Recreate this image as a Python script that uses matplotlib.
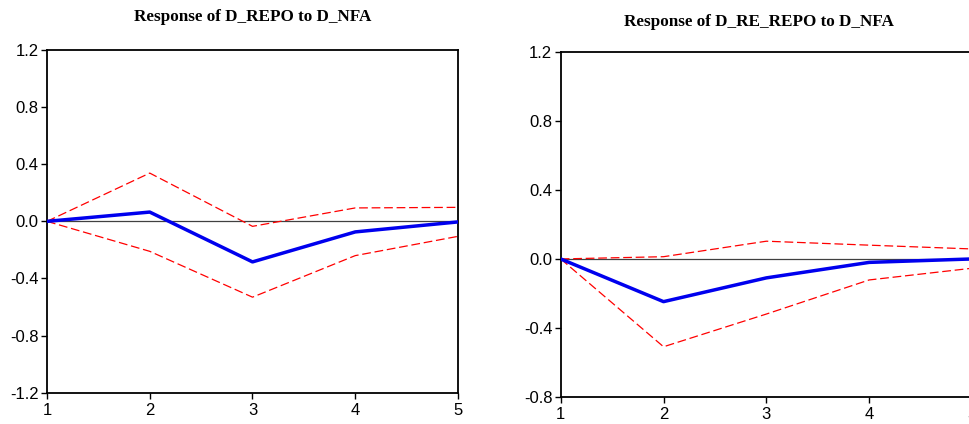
import numpy as np
import matplotlib.pyplot as plt

# impulse response horizons
periods = [1, 2, 3, 4, 5]

# Response of D_REPO to D_NFA
repo_resp = [0.0, 0.065, -0.284, -0.074, -0.004]
repo_upper = [0.0, 0.338, -0.035, 0.094, 0.098]
repo_lower = [0.0, -0.210, -0.531, -0.240, -0.105]

# Response of D_RE_REPO to D_NFA
rerepo_resp = [0.0, -0.248, -0.110, -0.020, 0.0]
rerepo_upper = [0.0, 0.013, 0.103, 0.080, 0.058]
rerepo_lower = [0.0, -0.510, -0.320, -0.122, -0.054]

left_yticks = [1.2, 0.8, 0.4, 0.0, -0.4, -0.8, -1.2]
right_yticks = [1.2, 0.8, 0.4, 0.0, -0.4, -0.8]

W, H = 970, 424
fig = plt.figure(figsize=(W / 100, H / 100), dpi=100)


def px_axes(x0, y0, x1, y1):
    return fig.add_axes([x0 / W, 1 - y1 / H, (x1 - x0) / W, (y1 - y0) / H])


def draw_panel(ax, resp, upper, lower, yticks, ylim):
    ax.axhline(0, color='#404040', lw=0.9, zorder=1)
    ax.plot(periods, upper, color='red', lw=0.9, dashes=(7, 3), zorder=2)
    ax.plot(periods, lower, color='red', lw=0.9, dashes=(7, 3), zorder=2)
    ax.plot(periods, resp, color='#0000ee', lw=2.5, zorder=3)
    ax.set_xlim(1, 5)
    ax.set_ylim(*ylim)
    ax.set_xticks(periods)
    ax.set_yticks(yticks)
    ax.set_yticklabels([f'{v:.1f}' for v in yticks])
    ax.tick_params(direction='out', length=4.5, width=1,
                   labelsize=12, colors='black')
    ax.tick_params(axis='y', pad=1.5)
    ax.tick_params(axis='x', pad=3)
    for s in ax.spines.values():
        s.set_linewidth(1.3)


ax1 = px_axes(47, 50, 458, 392.7)
draw_panel(ax1, repo_resp, repo_upper, repo_lower, left_yticks, (-1.2, 1.2))

ax2 = px_axes(560.7, 52.3, 972, 396.7)
draw_panel(ax2, rerepo_resp, rerepo_upper, rerepo_lower, right_yticks, (-0.8, 1.2))

for ax in (ax1, ax2):
    for lab in ax.get_xticklabels() + ax.get_yticklabels():
        lab.set_family('Liberation Sans')

title_kw = dict(family='Liberation Serif', weight='bold', fontsize=12.3,
                ha='center', va='center')
fig.text(252.5 / W, 1 - 17 / H, 'Response of D_REPO to D_NFA', **title_kw)
fig.text(759 / W, 1 - 22 / H, 'Response of D_RE_REPO to D_NFA', **title_kw)

fig.savefig('out.png', dpi=100)
